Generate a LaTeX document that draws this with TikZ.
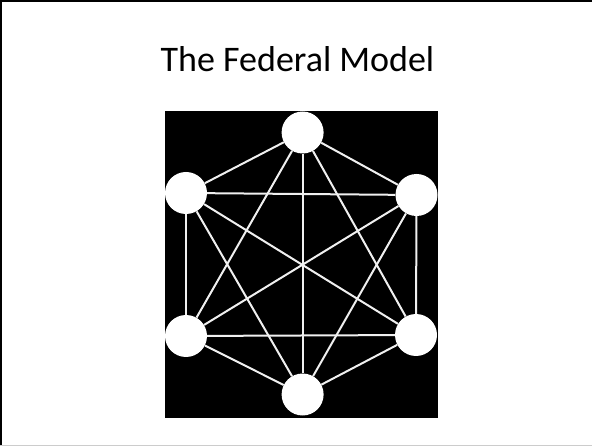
\documentclass[tikz,border=0pt]{standalone}
\usepackage{fontspec}
\setmainfont{Carlito}

\begin{document}
\begin{tikzpicture}[
    x=1pt, y=-1pt,
    % Define styles
    hub/.style={circle, fill=white, draw=none, minimum size=42pt, inner sep=0pt},
    link/.style={draw=white!88!gray, line width=2pt},
    frame/.style={line width=2pt, black}
]
    \useasboundingbox (0,0) rectangle (592,446);

    % --- SLIDE FRAME ---
    \draw [frame] (0,1) -- (592,1);
    \draw [frame] (1,0) -- (1,446);
    \draw [gray!40, line width=1pt] (0,445.5) -- (592,445.5);

    % --- TITLE ---
    \node (title) [anchor=base, font=\fontsize{36}{40}\selectfont] at (297.5,72) {The Federal Model};

    % --- BLACK PANEL ---
    \fill [black] (165,111) rectangle (437.7,417.7);

    % --- HUBS ---
    \node (top)      [hub] at (302.6,132.5) {};
    \node (upleft)   [hub] at (186,193) {};
    \node (upright)  [hub] at (416.5,195) {};
    \node (lowleft)  [hub] at (186,336) {};
    \node (lowright) [hub] at (416,335) {};
    \node (bottom)   [hub] at (302.6,394.5) {};

    % --- LINKS (every hub to every other) ---
    \foreach \a/\b in {top/upleft, top/upright, top/lowleft, top/lowright, top/bottom,
                       upleft/upright, upleft/lowleft, upleft/lowright, upleft/bottom,
                       upright/lowleft, upright/lowright, upright/bottom,
                       lowleft/lowright, lowleft/bottom, lowright/bottom}
        \draw [link] (\a) -- (\b);

\end{tikzpicture}
\end{document}
